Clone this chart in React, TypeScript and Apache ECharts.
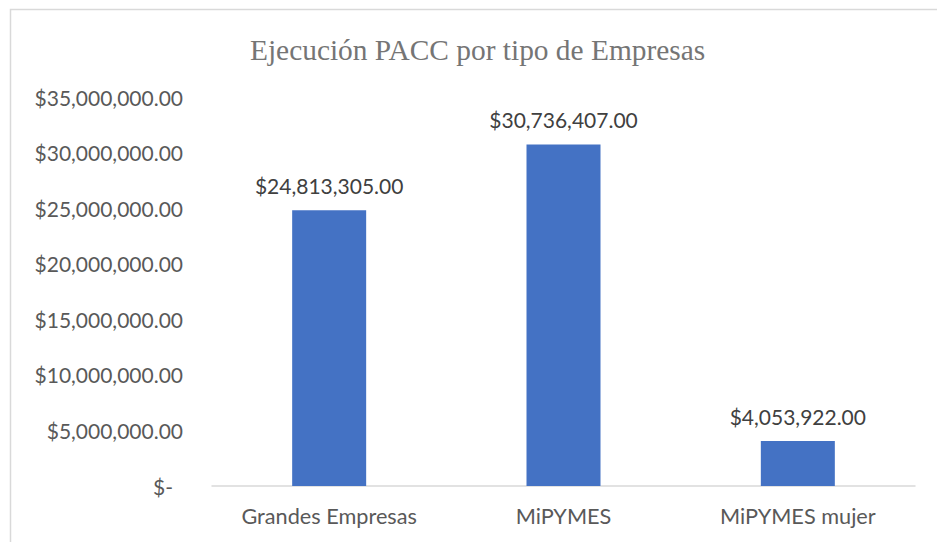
import React, { useEffect, useRef } from "react";
import * as echarts from "echarts";

const categories = ["Grandes Empresas", "MiPYMES", "MiPYMES mujer"];
const values = [24813305, 30736407, 4053922];
const yTicks = { min: 0, max: 35000000, interval: 5000000 };
const titleText = "Ejecución PACC por tipo de Empresas";

const money = (v: number) =>
  "$" + v.toLocaleString("en-US", { minimumFractionDigits: 2, maximumFractionDigits: 2 });

export default function App() {
  const ref = useRef<HTMLDivElement>(null);
  useEffect(() => {
    if (!ref.current) return;
    const chart = echarts.init(ref.current, null, { renderer: "svg" });
    const font = "Lato";
    chart.setOption({
      animation: false,
      backgroundColor: "#ffffff",
      title: {
        text: titleText,
        left: 245,
        top: 30,
        textStyle: {
          fontFamily: "Liberation Serif",
          fontWeight: "normal",
          fontSize: 29.4,
          color: "#757575",
        },
      },
      graphic: [
        {
          type: "rect",
          shape: { x: 10.5, y: 9.5, width: 1000, height: 1000 },
          style: { fill: "none", stroke: "#d9d9d9", lineWidth: 1.5 },
          silent: true,
        },
      ],
      grid: { left: 212, right: 22, top: 97, bottom: 56, containLabel: false },
      xAxis: {
        type: "category",
        data: categories,
        axisLine: { lineStyle: { color: "#d9d9d9", width: 1.5 } },
        axisTick: { show: false },
        axisLabel: { color: "#595959", fontFamily: font, fontSize: 21.7, margin: 19 },
      },
      yAxis: {
        type: "value",
        min: yTicks.min,
        max: yTicks.max,
        interval: yTicks.interval,
        splitLine: { show: false },
        axisLine: { show: false },
        axisTick: { show: false },
        axisLabel: {
          color: "#595959",
          fontFamily: font,
          fontSize: 21,
          margin: 29,
          formatter: (v: number) => (v === 0 ? "{z|$-}" : money(v)),
          rich: {
            z: { color: "#595959", fontFamily: font, fontSize: 21, padding: [0, 10, 0, 0] },
          },
        },
      },
      series: [
        {
          type: "bar",
          data: values,
          barWidth: 74,
          itemStyle: { color: "#4472C4" },
          label: {
            show: true,
            position: "top",
            distance: 14,
            color: "#404040",
            fontFamily: font,
            fontSize: 21,
            formatter: (p: any) => money(p.value),
          },
        },
      ],
    });
    return () => chart.dispose();
  }, []);
  return (
    <div
      ref={ref}
      style={{ position: "fixed", left: 0, top: 0, width: 937, height: 542 }}
    />
  );
}
